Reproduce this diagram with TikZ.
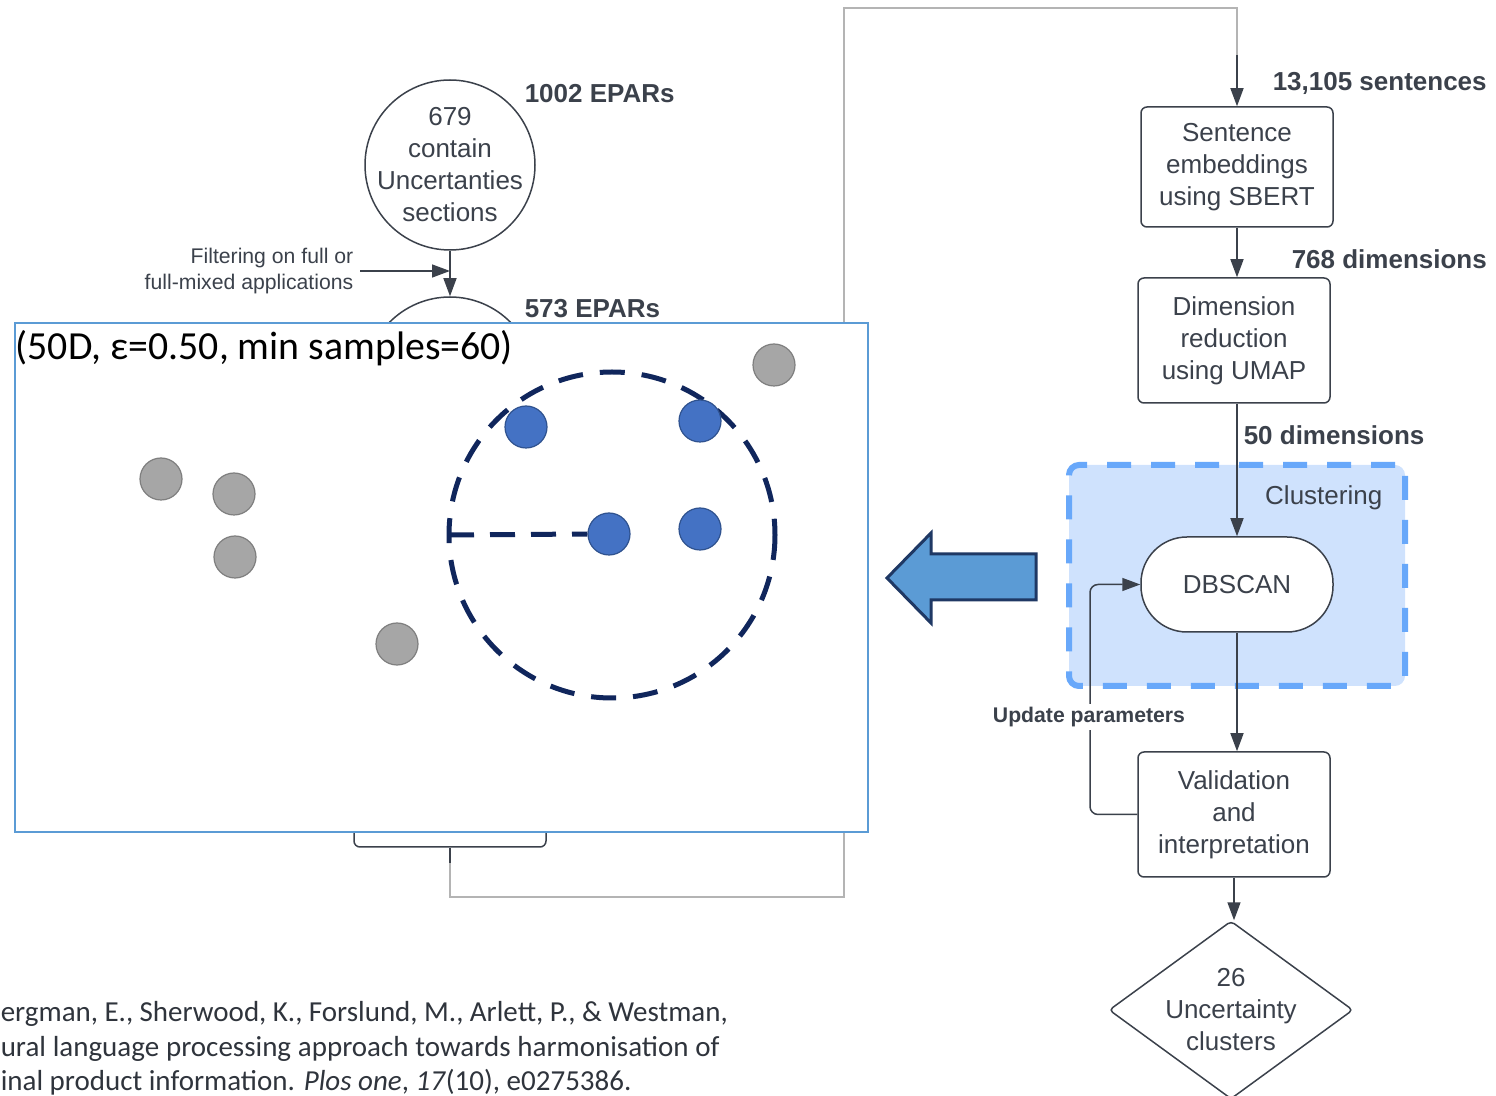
\documentclass[tikz,border=0pt]{standalone}
\usepackage{fontspec}
\setmainfont{Liberation Sans}
\newfontfamily\calib{Carlito}
\usetikzlibrary{arrows.meta,shapes.geometric}

\definecolor{ink}{RGB}{59,65,75}
\definecolor{faint}{RGB}{180,180,180}
\definecolor{clfill}{RGB}{207,226,253}
\definecolor{cldash}{RGB}{104,168,250}
\definecolor{ovl}{RGB}{91,155,213}
\definecolor{navy}{RGB}{16,38,92}
\definecolor{dotgray}{RGB}{166,166,166}
\definecolor{dotgrayb}{RGB}{127,127,127}
\definecolor{dotblue}{RGB}{68,114,196}
\definecolor{dotblueb}{RGB}{47,82,143}
\definecolor{arrfill}{RGB}{91,155,213}
\definecolor{arrline}{RGB}{31,56,100}

\tikzset{
  txt/.style={text=ink, font=\fontsize{13}{16}\selectfont, align=center},
  proc/.style={txt, draw=ink, fill=white, rounded corners=3pt, inner sep=0pt,
    minimum width=96pt},
  circ/.style={draw=ink, fill=white, circle, inner sep=0pt, minimum size=85pt},
  lbl/.style={text=ink, font=\bfseries\fontsize{13}{16}\selectfont, inner sep=0pt},
  note/.style={text=ink, font=\fontsize{10.6}{13}\selectfont, inner sep=0pt},
  flow/.style={draw=ink, -{Triangle[length=9pt,width=6.5pt]}},
  gdot/.style={circle, fill=dotgray, draw=dotgrayb, line width=0.6pt, minimum size=21pt, inner sep=0pt},
  bdot/.style={circle, fill=dotblue, draw=dotblueb, line width=0.6pt, minimum size=21pt, inner sep=0pt},
}

\begin{document}
\begin{tikzpicture}[x=0.5pt, y=-0.5pt, line width=0.75pt]
\useasboundingbox (0,0) rectangle (1496,1096);

% ---- left column: document selection ----
\node[circ, label={[txt, inner sep=0pt]center:{679\\contain\\Uncertanties\\sections}}]
  (c1) at (450,165) {};
\node[lbl, anchor=west] (l1) at (524,94) {1002 EPARs};
\node[circ] (c2) at (450,382) {};
\node[lbl, anchor=west] (l2) at (524,309) {573 EPARs};
\draw[flow] (c1) -- (c2);

\node[note, anchor=east, align=right] (filt) at (354,271) {Filtering on full or\\full-mixed applications};
\coordinate (fs) at (360,271);
\coordinate (fj) at (450,271);
\draw[flow] (fs) -- (fj);

\node[proc, minimum height=40pt] (ext) at (450,807) {};

% long connector to the embedding step
\coordinate (r1) at (450,897);
\coordinate (r2) at (844,897);
\coordinate (r3) at (844,8);
\coordinate (r4) at (1237,8);
\coordinate (r5) at (1237,55);
\draw[faint] (ext.south) -- (r1) -- (r2) -- (r3) -- (r4) -- (r5);
\draw[ink] (ext.south) -- ++(0,15);

% ---- DBSCAN illustration panel ----
\node[draw=ovl, line width=1.2pt, fill=white, minimum width=426.5pt,
      minimum height=254.5pt, inner sep=0pt] (plot) at (441.5,577.5) {};
\node[anchor=west, inner sep=0pt, font=\calib\fontsize{19.9}{22}\selectfont] (ttl)
  at (15,348) {(50D, ε=0.50, min samples=60)};

\draw[navy, line width=2.5pt, dash pattern=on 12.5pt off 8.5pt] (612,535) circle [radius=163];

\node[gdot] (p1) at (774,365) {};
\node[gdot] (p2) at (161,479) {};
\node[gdot] (p3) at (234,494) {};
\node[gdot] (p4) at (235,557) {};
\node[gdot] (p5) at (397,644) {};
\node[bdot] (b1) at (526,427) {};
\node[bdot] (b2) at (700,421) {};
\node[bdot] (b3) at (609,534) {};
\node[bdot] (b4) at (700,529) {};

\coordinate (rad) at (449,535);
\draw[navy, line width=2.5pt, dash pattern=on 12.5pt off 8pt] (rad) -- (b3.west);

% block arrow pointing to the panel
\draw[fill=arrfill, draw=arrline, line width=1.5pt, line join=miter]
  (1036,554) -- (931,554) -- (931,533) -- (887,578) -- (931,623) -- (931,600) -- (1036,600) -- cycle;

% ---- right column: pipeline ----
\node[proc, minimum height=60pt] (sent) at (1237,167) {Sentence\\embeddings\\using SBERT};
\node[lbl, anchor=west] (l3) at (1272,83) {13,105 sentences};
\draw[flow] (r5) -- (sent.north);

\node[proc, minimum height=62.5pt] (dim) at (1234,340.5) {Dimension\\reduction\\using UMAP};
\node[lbl, anchor=west] (l4) at (1291,259) {768 dimensions};
\draw[flow] (sent.south) -- (sent.south |- dim.north);

\node[draw=cldash, fill=clfill, line width=3pt, dash pattern=on 12pt off 10pt,
      rounded corners=5pt, minimum width=168pt, minimum height=110.5pt, inner sep=0pt]
      (clu) at (1237,575.5) {};
\node[txt, anchor=east, inner sep=0pt] (clt) at (1383,498) {Clustering};

\node[txt, draw=ink, fill=white, rounded corners=23pt, minimum width=96pt,
      minimum height=47.5pt, inner sep=0pt] (db) at (1237,584.5) {DBSCAN};
\node[lbl, anchor=west] (l5) at (1243,435) {50 dimensions};
\draw[flow] (dim.south -| db.north) -- (db.north);

\node[proc, minimum height=62.5pt] (val) at (1234,814.5) {Validation\\and\\interpretation};
\draw[flow] (db.south) -- (db.south |- val.north);

\coordinate (fb) at (1090,584.5);
\draw[flow, rounded corners=4pt] (val.west) -| (fb) -- (db.west);
\node[fill=white, text=ink, font=\bfseries\fontsize{10.6}{12}\selectfont, inner sep=1.5pt]
  (upd) at (1089,717) {Update parameters};

\node[diamond, draw=ink, rounded corners=2pt, minimum width=122pt, minimum height=89pt,
      inner sep=0pt,
      label={[txt, inner sep=0pt]center:{26\\Uncertainty\\clusters}}] (res) at (1231,1010) {};
\draw[flow] (val.south) -- (val.south |- res.north);

% ---- reference line ----
\begin{scope}[every node/.style={anchor=west, inner sep=0pt, text=ink!80!black,
    font=\calib\fontsize{14.5}{17.5}\selectfont}]
\node (cit1) at (0,1014) {\makebox[363.5pt][s]{ergman, E., Sherwood, K., Forslund, M., Arlett, P., \& Westman,}};
\node (cit2) at (0,1049) {\makebox[359.5pt][s]{ural language processing approach towards harmonisation of}};
\node (cit3) at (0,1082) {inal product information. \textit{Plos one}, \textit{17}(10), e0275386.};
\end{scope}
\end{tikzpicture}
\end{document}
